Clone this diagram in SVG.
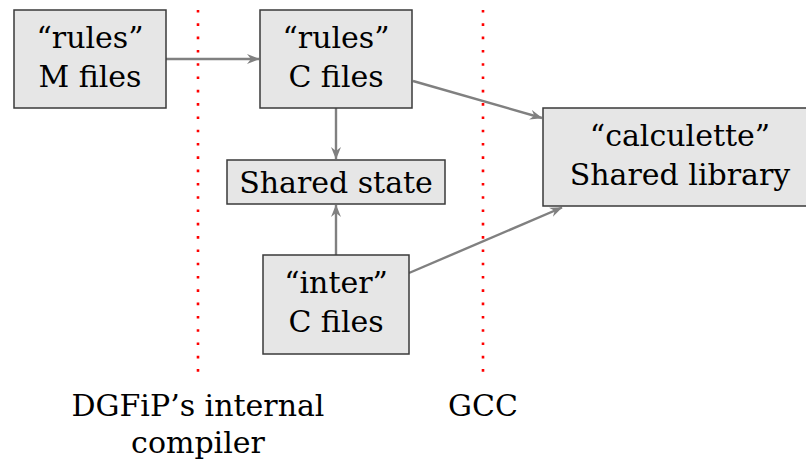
<svg xmlns="http://www.w3.org/2000/svg" width="806" height="462" viewBox="0 0 806 462">
<style>
.box{fill:#e6e6e6;stroke:#3a3a3a;stroke-width:1.5}
.t{font-family:"DejaVu Serif",serif;font-size:30px;fill:#000;text-anchor:middle}
.c{stroke:#808080;stroke-width:2.4;fill:none;marker-end:url(#ah)}
.sep{stroke:#ff0000;stroke-width:2.6;stroke-dasharray:2.6 10.7;fill:none}
</style>
<defs>
<marker id="ah" viewBox="0 0 13 11" refX="12" refY="5.5" markerUnits="userSpaceOnUse" markerWidth="13" markerHeight="11" orient="auto">
<path d="M0,0.5 L12.5,5.5 L0,10.5 L4,5.5 z" fill="#808080"/>
</marker>
</defs>
<g id="separators">
<line class="sep" x1="198" y1="10" x2="198" y2="372"/>
<line class="sep" x1="483" y1="10" x2="483" y2="372"/>
</g>
<g id="connectors">
<line class="c" x1="166" y1="59" x2="259" y2="59"/>
<line class="c" x1="336" y1="108" x2="336" y2="159"/>
<line class="c" x1="336" y1="255" x2="336" y2="205"/>
<line class="c" x1="413" y1="81" x2="542" y2="118"/>
<line class="c" x1="409" y1="273" x2="562" y2="207.5"/>
</g>
<g id="rulesM">
<rect class="box" x="14" y="10" width="152" height="98"/>
<text class="t" x="90" y="48">“rules”</text>
<text class="t" x="90" y="87">M files</text>
</g>
<g id="rulesC">
<rect class="box" x="260" y="10" width="152" height="98"/>
<text class="t" x="336" y="48">“rules”</text>
<text class="t" x="336" y="87">C files</text>
</g>
<g id="sharedState">
<rect class="box" x="227" y="160" width="218" height="44"/>
<text class="t" x="336" y="193">Shared state</text>
</g>
<g id="interC">
<rect class="box" x="263" y="255" width="146" height="99"/>
<text class="t" x="336" y="293">“inter”</text>
<text class="t" x="336" y="332">C files</text>
</g>
<g id="calculette">
<rect class="box" x="543" y="108" width="274" height="98"/>
<text class="t" x="680" y="146">“calculette”</text>
<text class="t" x="680" y="185">Shared library</text>
</g>
<g id="labels">
<text class="t" x="198" y="416">DGFiP’s internal</text>
<text class="t" x="198" y="453">compiler</text>
<text class="t" x="483" y="416">GCC</text>
</g>
</svg>
